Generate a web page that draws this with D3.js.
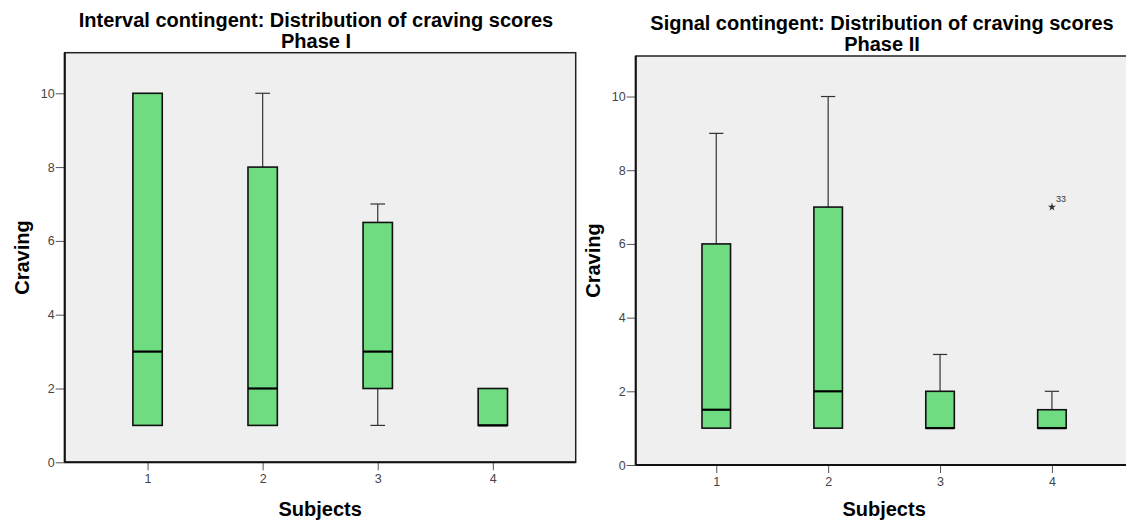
<!DOCTYPE html>
<html>
<head>
<meta charset="utf-8">
<script src="https://cdn.jsdelivr.net/npm/d3@7"></script>
<style>
  html, body { margin: 0; padding: 0; background: #ffffff; }
  svg { display: block; font-family: "Liberation Sans", Arial, sans-serif; }
</style>
</head>
<body>
<svg id="chart" width="1126" height="520"></svg>
<script>
// ---- data ----
const subjects = [1, 2, 3, 4];
const yTicks = [0, 2, 4, 6, 8, 10];

const phase1Title = ["Interval contingent: Distribution of craving scores", "Phase I"];
const phase1Min    = [1, 1, 1, 1];
const phase1Q1     = [1, 1, 2, 1];
const phase1Median = [3, 2, 3, 1];
const phase1Q3     = [10, 8, 6.5, 2];
const phase1Max    = [10, 10, 7, 2];

const phase2Title = ["Signal contingent: Distribution of craving scores", "Phase II"];
const phase2Min    = [1, 1, 1, 1];
const phase2Q1     = [1, 1, 1, 1];
const phase2Median = [1.5, 2, 1, 1];
const phase2Q3     = [6, 7, 2, 1.5];
const phase2Max    = [9, 10, 3, 2];
const phase2OutlierSubject = [4];
const phase2OutlierValue   = [7];
const phase2OutlierLabel   = ["33"];

const xTitle = "Subjects";
const yTitle = "Craving";

// ---- drawing ----
const svg = d3.select("#chart");

function panel(cfg) {
  const g = svg.append("g");
  const x = d3.scalePoint().domain(subjects).range([cfg.left, cfg.right]).padding(0.72);
  const y = d3.scaleLinear().domain([0, 11.1]).range([cfg.bottom, cfg.top]);
  const bw = x.step() * 0.255;

  // plot background
  g.append("rect")
    .attr("x", cfg.left).attr("y", cfg.top)
    .attr("width", cfg.right - cfg.left).attr("height", cfg.bottom - cfg.top)
    .attr("fill", "#efefef").attr("stroke", "#222").attr("stroke-width", 1.5);

  // titles
  cfg.title.forEach((t, i) => {
    g.append("text")
      .attr("x", cfg.titleX).attr("y", cfg.titleY + i * 20.5)
      .attr("text-anchor", "middle")
      .attr("font-size", 20).attr("font-weight", "bold").attr("fill", "#000")
      .text(t);
  });

  // axes
  const ya = g.append("g").attr("transform", `translate(${cfg.left},0)`)
    .call(d3.axisLeft(y).tickValues(yTicks).tickSize(9).tickPadding(1).tickSizeOuter(0));
  ya.select(".domain").remove();
  ya.selectAll("line").attr("stroke", "#555");
  ya.selectAll("text").attr("font-size", 12.5).attr("fill", "#444")
    .attr("font-family", "'Liberation Sans', Arial, sans-serif");

  const xa = g.append("g").attr("transform", `translate(0,${cfg.bottom})`)
    .call(d3.axisBottom(x).tickSize(8).tickPadding(4).tickSizeOuter(0));
  xa.select(".domain").remove();
  xa.selectAll("line").attr("stroke", "#555");
  xa.selectAll("text").attr("font-size", 12.5).attr("fill", "#444")
    .attr("font-family", "'Liberation Sans', Arial, sans-serif");

  // axis lines
  g.append("line").attr("x1", cfg.left).attr("x2", cfg.left)
    .attr("y1", cfg.top).attr("y2", cfg.bottom).attr("stroke", "#111").attr("stroke-width", 2);
  g.append("line").attr("x1", cfg.left).attr("x2", cfg.right)
    .attr("y1", cfg.bottom).attr("y2", cfg.bottom).attr("stroke", "#111").attr("stroke-width", 2);

  // axis titles
  g.append("text")
    .attr("x", (cfg.left + cfg.right) / 2).attr("y", cfg.xTitleY)
    .attr("text-anchor", "middle").attr("font-size", 20).attr("font-weight", "bold")
    .text(xTitle);
  g.append("text")
    .attr("transform", `translate(${cfg.yTitleX},${(cfg.top + cfg.bottom) / 2}) rotate(-90)`)
    .attr("text-anchor", "middle").attr("font-size", 20).attr("font-weight", "bold")
    .text(yTitle);

  // boxes
  const boxes = subjects.map((s, i) => ({
    s, min: cfg.min[i], q1: cfg.q1[i], med: cfg.med[i], q3: cfg.q3[i], max: cfg.max[i]
  }));
  const bg = g.selectAll(".box").data(boxes).enter().append("g");
  // whiskers
  bg.filter(d => d.max > d.q3).append("line")
    .attr("x1", d => x(d.s)).attr("x2", d => x(d.s))
    .attr("y1", d => y(d.q3)).attr("y2", d => y(d.max))
    .attr("stroke", "#333").attr("stroke-width", 1.2);
  bg.filter(d => d.max > d.q3).append("line")
    .attr("x1", d => x(d.s) - bw / 4).attr("x2", d => x(d.s) + bw / 4)
    .attr("y1", d => y(d.max)).attr("y2", d => y(d.max))
    .attr("stroke", "#333").attr("stroke-width", 1.2);
  bg.filter(d => d.min < d.q1).append("line")
    .attr("x1", d => x(d.s)).attr("x2", d => x(d.s))
    .attr("y1", d => y(d.q1)).attr("y2", d => y(d.min))
    .attr("stroke", "#333").attr("stroke-width", 1.2);
  bg.filter(d => d.min < d.q1).append("line")
    .attr("x1", d => x(d.s) - bw / 4).attr("x2", d => x(d.s) + bw / 4)
    .attr("y1", d => y(d.min)).attr("y2", d => y(d.min))
    .attr("stroke", "#333").attr("stroke-width", 1.2);
  // box
  bg.append("rect")
    .attr("x", d => x(d.s) - bw / 2).attr("width", bw)
    .attr("y", d => y(d.q3)).attr("height", d => y(d.q1) - y(d.q3))
    .attr("fill", "#6fdc82").attr("stroke", "#111").attr("stroke-width", 1.6);
  // median
  bg.append("line")
    .attr("x1", d => x(d.s) - bw / 2).attr("x2", d => x(d.s) + bw / 2)
    .attr("y1", d => y(d.med)).attr("y2", d => y(d.med))
    .attr("stroke", "#000").attr("stroke-width", 2.2);

  // outliers
  if (cfg.outS) {
    cfg.outS.forEach((s, i) => {
      g.append("path")
        .attr("d", d3.symbol(d3.symbolStar).size(20)())
        .attr("transform", `translate(${x(s)},${y(cfg.outV[i])})`)
        .attr("fill", "#333");
      g.append("text")
        .attr("x", x(s) + 4).attr("y", y(cfg.outV[i]) - 5)
        .attr("font-size", 9).attr("fill", "#333")
        .text(cfg.outL[i]);
    });
  }
}

panel({
  left: 64.7, right: 575.7, top: 52.7, bottom: 462.3,
  title: phase1Title, titleX: 316, titleY: 27,
  xTitleY: 516, yTitleX: 29,
  min: phase1Min, q1: phase1Q1, med: phase1Median, q3: phase1Q3, max: phase1Max
});

panel({
  left: 635.7, right: 1132.5, top: 56, bottom: 465,
  title: phase2Title, titleX: 882, titleY: 30,
  xTitleY: 516, yTitleX: 600,
  min: phase2Min, q1: phase2Q1, med: phase2Median, q3: phase2Q3, max: phase2Max,
  outS: phase2OutlierSubject, outV: phase2OutlierValue, outL: phase2OutlierLabel
});
</script>
</body>
</html>
